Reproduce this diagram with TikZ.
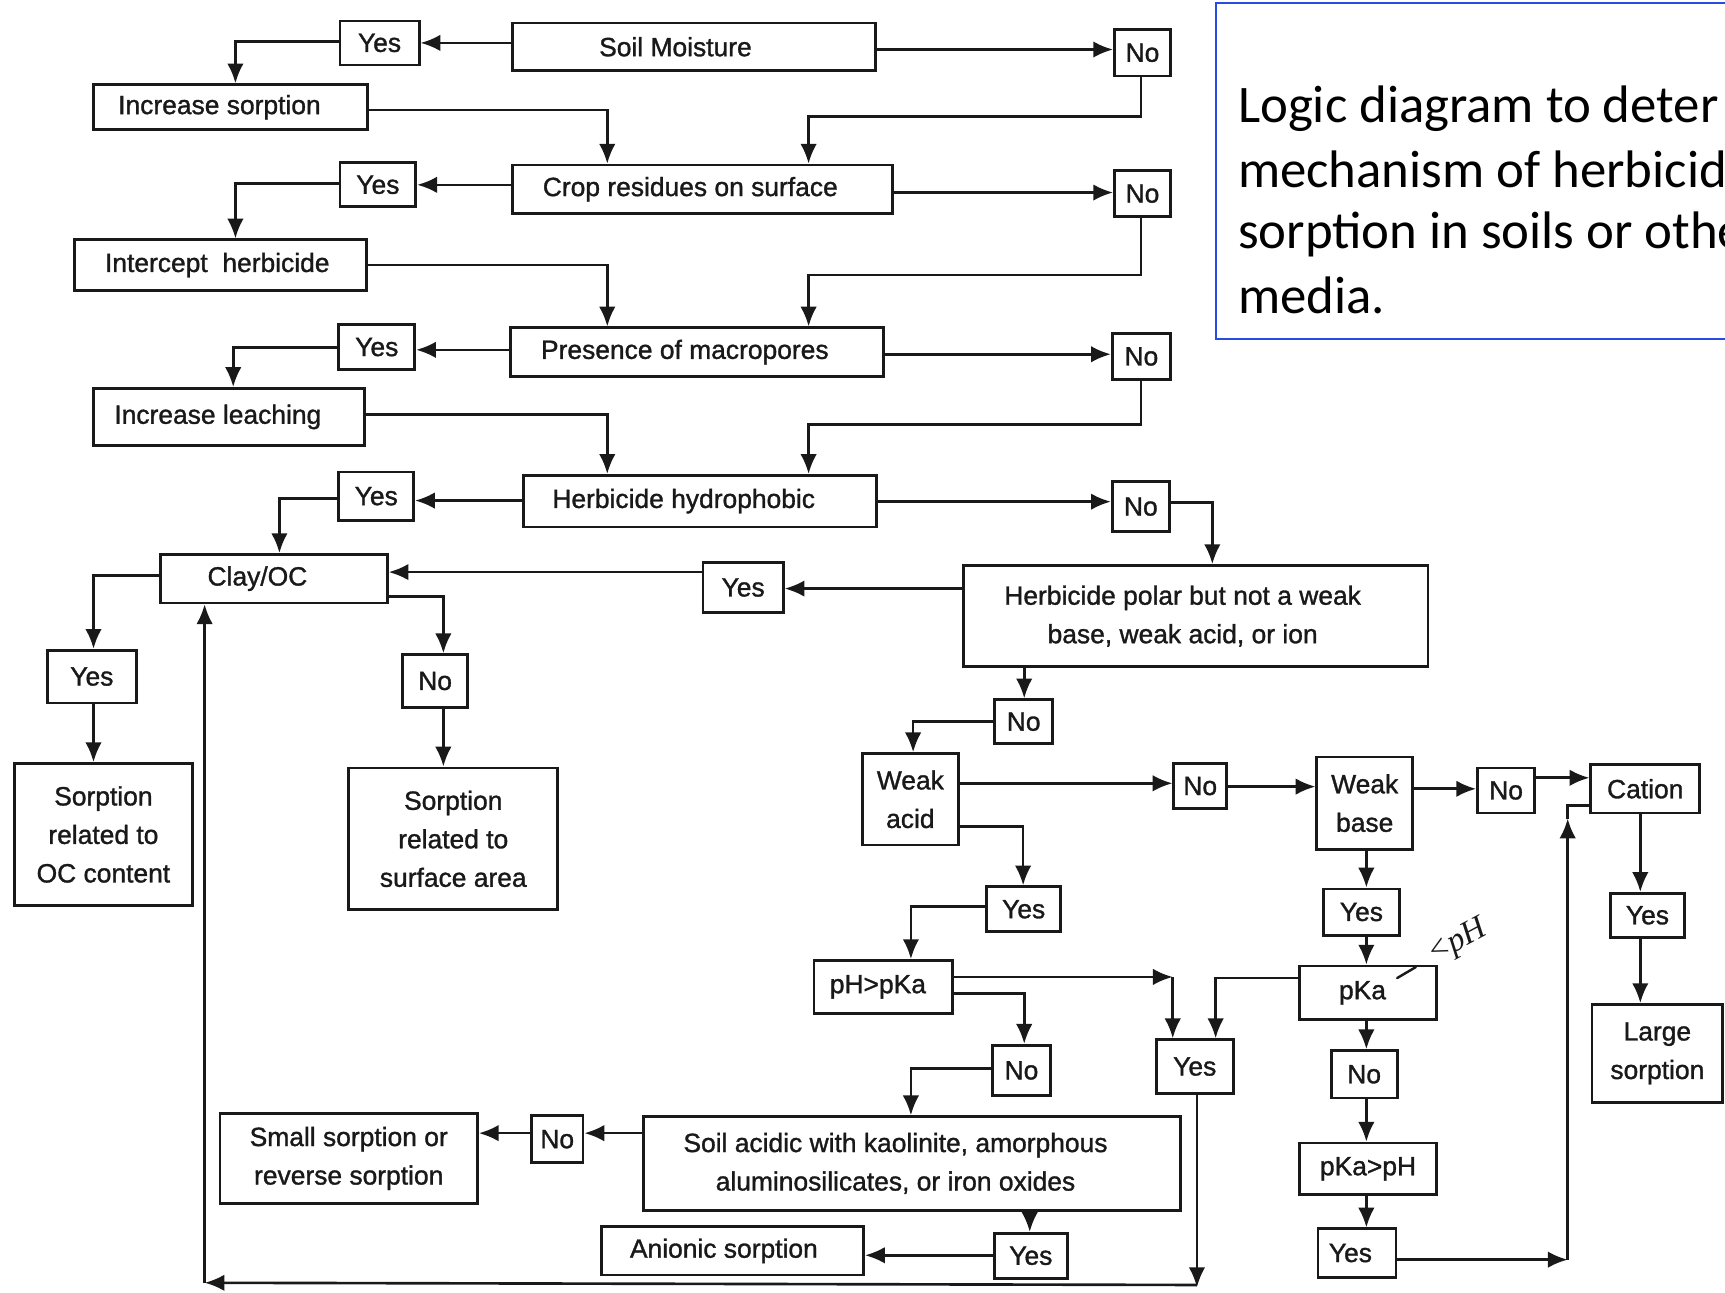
\documentclass[tikz,border=0pt]{standalone}
\usepackage{fontspec}
\setmainfont{Liberation Sans}[FakeBold=1.2]
\newfontfamily\titlefont{Carlito}
\newfontfamily\handfont{Liberation Serif}
\usetikzlibrary{arrows.meta}
\definecolor{ink}{RGB}{25,25,25}
\definecolor{titleblue}{RGB}{40,75,225}
\newcommand\dfont{\fontsize{12}{17.5}\selectfont}
\newcommand\bx[6][0]{%
  \pgfmathsetmacro\bxw{(#5-#3)*0.5}%
  \pgfmathsetmacro\bxh{(#6-#4)*0.5}%
  \node[box, minimum width=\bxw pt, minimum height=\bxh pt] (#2) at ({(#3+#5)/2},{(#4+#6)/2}) {\hspace*{#1pt}\bxtext};}
\tikzset{
  box/.style={draw=ink, line width=1.25pt, inner sep=0pt, align=center, font=\dfont, text=ink},
  ln/.style={draw=ink, line width=1.2pt},
  arr/.style={ln, -{Latex[length=9pt,width=7.5pt]}},
  ttl/.style={anchor=base west, inner sep=0pt, font=\titlefont\fontsize{24}{29}\selectfont, text=black},
}
\newcommand\B[7][0]{\def\bxtext{#7}\bx[#1]{#2}{#3}{#4}{#5}{#6}}
\begin{document}
\begin{tikzpicture}[x=0.5pt,y=-0.5pt]
\useasboundingbox (0,0) rectangle (1568,1175);
\clip (0,0) rectangle (1568,1175);
\fill[white] (0,0) rectangle (1568,1175);

% ---- left column boxes
\B[-17]{soil}{466}{21}{796}{64}{Soil Moisture}
\B{yes1}{309}{19}{381}{59}{Yes}
\B{no1}{1013}{27}{1064}{69}{No}
\B[-10]{incsorp}{85}{77}{334}{118}{Increase sorption}
\B[-11]{crop}{466}{150}{811}{194}{Crop residues on surface}
\B{yes2}{309}{148}{378}{188}{Yes}
\B{no2}{1013}{155}{1064}{197}{No}
\B[-3]{intercept}{68}{218}{333}{264}{Intercept\ \ herbicide}
\B[-11]{presence}{464}{298}{803}{342}{Presence of macropores}
\B{yes3}{308}{295}{377}{336}{Yes}
\B{no3}{1011}{303}{1064}{345}{No}
\B[-10]{incleach}{85}{353}{331}{405}{Increase leaching}
\B[-15]{hh}{476}{432}{797}{479}{Herbicide hydrophobic}
\B{yes4}{308}{429}{376}{473}{Yes}
\B{no4}{1011}{438}{1063}{483}{No}
\B[-15]{clay}{146}{504}{352}{548}{Clay/OC}
\B{yes5}{639}{511}{712}{557}{Yes}
\B{polar}{876}{514}{1298}{606}{\hspace*{-12pt}Herbicide polar but not a weak\\\hspace*{-12pt}base, weak acid, or ion}
\B{yes6}{43}{591}{124}{639}{Yes}
\B{no5}{366}{595}{425}{643}{No}
\B{sorpoc}{13}{694}{175}{823}{Sorption\\related to\\OC content}
\B{sorpsa}{317}{698}{507}{827}{Sorption\\related to\\surface area}

% ---- right part
\B{no6}{904}{636}{957}{676}{No}
\B{wacid}{784}{685}{871}{768}{Weak\\acid}
\B{no7}{1067}{694}{1115}{735}{No}
\B{wbase}{1197}{688}{1284}{772}{Weak\\base}
\B{no8}{1343}{698}{1395}{739}{No}
\B{cation}{1446}{695}{1545}{739}{Cation}
\B{yes8}{897}{806}{964}{847}{Yes}
\B[-5]{phpka}{740}{873}{866}{921}{pH>pKa}
\B{yes12}{1203}{808}{1272}{850}{Yes}
\B[-5]{pka}{1181}{878}{1306}{927}{pKa}
\B{yes7}{1051}{945}{1121}{994}{Yes}
\B{no9}{902}{950}{955}{996}{No}
\B{no11}{1210}{955}{1270}{998}{No}
\B{yes10}{1464}{812}{1531}{852}{Yes}
\B{large}{1447}{913}{1566}{1002}{Large\\sorption}
\B{soilacid}{585}{1015}{1073}{1100}{\hspace*{-15pt}Soil acidic with kaolinite, amorphous\\\hspace*{-15pt}aluminosilicates, or iron oxides}
\B{no10}{483}{1014}{530}{1057}{No}
\B{small}{200}{1012}{434}{1094}{Small sorption or\\reverse sorption}
\B{pkaph}{1181}{1039}{1306}{1086}{pKa>pH}
\B{yes11}{904}{1121}{970}{1162}{Yes}
\B[-8]{anionic}{547}{1115}{785}{1159}{Anionic sorption}
\B[-6]{yes9}{1198}{1117}{1269}{1161}{Yes}

% ---- connectors, top rows
\draw[arr] (soil.west |- 0,39) -- (yes1.east |- 0,39);
\draw[arr] (yes1.west |- 0,38) -| (incsorp.north -| 214,0);
\draw[arr] (soil.east |- 0,45) -- (no1.west |- 0,45);
\draw[arr] (incsorp.east |- 0,100) -| (crop.north -| 552,0);
\draw[arr] (no1.south -| 1037,0) -- (1037,106) -| (crop.north -| 735,0);

\draw[arr] (crop.west |- 0,168) -- (yes2.east |- 0,168);
\draw[arr] (yes2.west |- 0,167) -| (intercept.north -| 214,0);
\draw[arr] (crop.east |- 0,175) -- (no2.west |- 0,175);
\draw[arr] (intercept.east |- 0,241) -| (presence.north -| 552,0);
\draw[arr] (no2.south -| 1037,0) -- (1037,250) -| (presence.north -| 735,0);

\draw[arr] (presence.west |- 0,318) -- (yes3.east |- 0,318);
\draw[arr] (yes3.west |- 0,316) -| (incleach.north -| 212,0);
\draw[arr] (presence.east |- 0,322) -- (no3.west |- 0,322);
\draw[arr] (incleach.east |- 0,377) -| (hh.north -| 552,0);
\draw[arr] (no3.south -| 1037,0) -- (1037,386) -| (hh.north -| 735,0);

\draw[arr] (hh.west |- 0,455) -- (yes4.east |- 0,455);
\draw[arr] (yes4.west |- 0,453) -| (clay.north -| 254,0);
\draw[arr] (hh.east |- 0,456) -- (no4.west |- 0,456);
\draw[arr] (no4.east |- 0,457) -| (polar.north -| 1102,0);

\draw[arr] (polar.west |- 0,535) -- (yes5.east |- 0,535);
\draw[arr] (yes5.west |- 0,520) -- (clay.east |- 0,520);
\draw[arr] (clay.west |- 0,523) -| (yes6.north -| 85,0);
\draw[arr] (yes6.south -| 85,0) -- (sorpoc.north -| 85,0);
\draw[arr] (clay.east |- 0,542) -| (no5.north -| 403,0);
\draw[arr] (no5.south -| 403,0) -- (sorpsa.north -| 403,0);

% ---- weak acid branch
\draw[arr] (polar.south -| 931,0) -- (no6.north -| 931,0);
\draw[arr] (no6.west |- 0,656) -| (wacid.north -| 830,0);
\draw[arr] (wacid.east |- 0,712) -- (no7.west |- 0,712);
\draw[arr] (no7.east |- 0,715) -- (wbase.west |- 0,715);
\draw[arr] (wbase.east |- 0,717) -- (no8.west |- 0,717);
\draw[arr] (no8.east |- 0,707) -- (cation.west |- 0,707);
\draw[arr] (cation.south -| 1491,0) -- (yes10.north -| 1491,0);
\draw[arr] (yes10.south -| 1491,0) -- (large.north -| 1491,0);

\draw[arr] (wacid.east |- 0,751) -| (yes8.north -| 930,0);
\draw[arr] (yes8.west |- 0,824) -| (phpka.north -| 828,0);
\coordinate (c1) at (1066,888);
\draw[arr] (phpka.east |- 0,888) -- (c1);
\draw[arr] (c1) -- (yes7.north -| 1066,0);
\draw[arr] (phpka.east |- 0,903) -| (no9.north -| 931,0);
\draw[arr] (no9.west |- 0,971) -| (soilacid.north -| 828,0);
\draw[arr] (soilacid.west |- 0,1030) -- (no10.east |- 0,1030);
\draw[arr] (no10.west |- 0,1030) -- (small.east |- 0,1030);
\draw[arr] (soilacid.south -| 936,0) -- (yes11.north -| 936,0);
\draw[arr] (yes11.west |- 0,1141) -- (anionic.east |- 0,1141);

% ---- weak base branch
\draw[arr] (wbase.south -| 1242,0) -- (yes12.north -| 1242,0);
\draw[arr] (yes12.south -| 1242,0) -- (pka.north -| 1242,0);
\draw[arr] (pka.west |- 0,889) -| (yes7.north -| 1105,0);
\draw[arr] (pka.south -| 1242,0) -- (no11.north -| 1242,0);
\draw[arr] (no11.south -| 1242,0) -- (pkaph.north -| 1242,0);
\draw[arr] (pkaph.south -| 1242,0) -- (yes9.north -| 1242,0);
\coordinate (c2) at (1425,1145);
\coordinate (c4) at (1425,744);
\draw[arr] (yes9.east |- 0,1145) -- (c2);
\draw[arr] (c2) -- (c4);
\draw[ln] (c4) -- (1425,732) -- (cation.west |- 0,732);

% ---- return line to Clay/OC
\coordinate (c3) at (1088,1170);
\coordinate (c5) at (186,1166);
\draw[arr] (yes7.south -| 1088,0) -- (c3);
\draw[arr] (1088,1168) -- (c5);
\draw[arr] (c5) -- (clay.south -| 186,0);

% ---- handwritten note
\node[rotate=28, inner sep=0pt, font=\handfont\itshape\fontsize{15}{15}\selectfont, text=ink] (hw) at (1326,856) {{\upshape<}\kern0.5pt pH};
\draw[ink, line width=1.1pt, line cap=round] (1270,889) -- (1287,879);

% ---- title box
\draw[titleblue, line width=1pt] (1105,3) rectangle (1640,308);
\node[ttl] (t1) at (1125,111) {Logic diagram to deter};
\node[ttl] (t2) at (1125,170) {mechanism of herbicid};
\node[ttl] (t3) at (1125,226) {sorption in soils or othe};
\node[ttl] (t4) at (1125,285) {media.};
\end{tikzpicture}
\end{document}
